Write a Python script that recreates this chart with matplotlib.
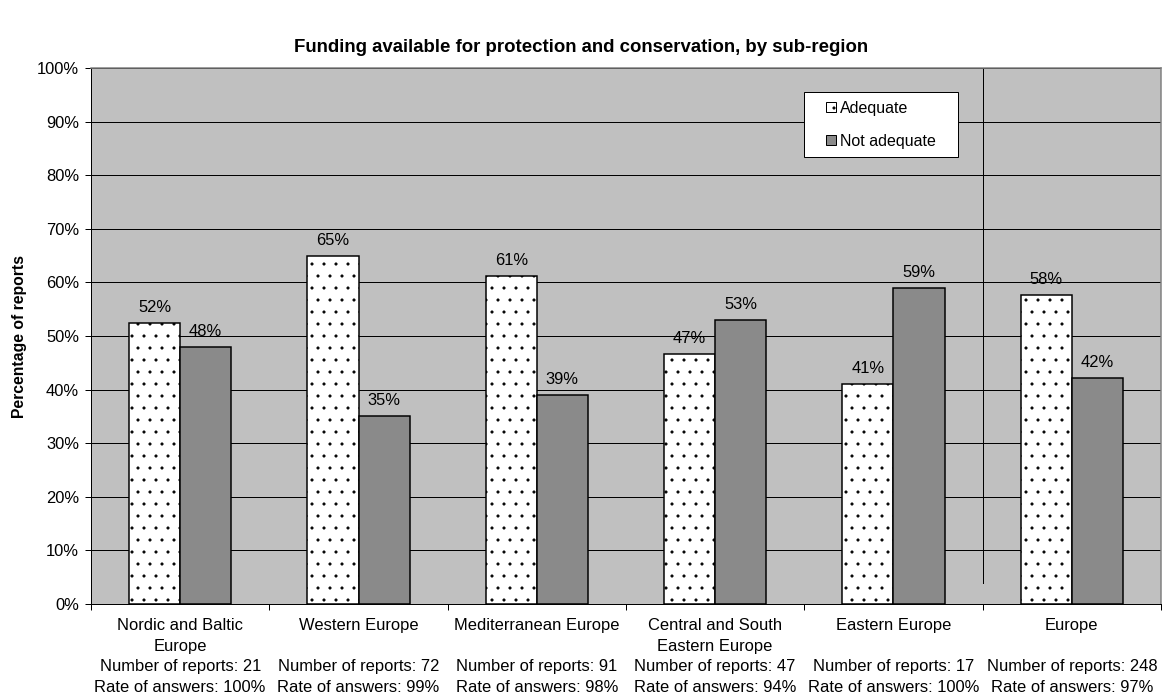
import numpy as np
import matplotlib
matplotlib.use("Agg")
import matplotlib.pyplot as plt
from matplotlib.ticker import PercentFormatter
from matplotlib.patches import Rectangle
from matplotlib.legend_handler import HandlerPatch

# figure at 72 dpi so that 1 pt == 1 px (also gives a sparser dot hatch)
plt.rcParams['font.family'] = ['Liberation Sans', 'DejaVu Sans']
plt.rcParams['hatch.linewidth'] = 0.6

regions = ["Nordic and Baltic\nEurope", "Western Europe", "Mediterranean Europe",
           "Central and South\nEastern Europe", "Eastern Europe", "Europe"]
n_reports = [21, 72, 91, 47, 17, 248]
rate_answers = [100, 99, 98, 94, 100, 97]
adequate = [52.4, 64.9, 61.2, 46.6, 41.0, 57.6]
not_adequate = [48.0, 35.0, 39.0, 53.0, 59.0, 42.1]

labels = []
for r, n, a in zip(regions, n_reports, rate_answers):
    if "\n" not in r:
        r = r + "\n"
    labels.append(r + "\nNumber of reports: %d\nRate of answers: %d%%" % (n, a))

W, H = 1162, 697
fig = plt.figure(figsize=(W/72, H/72), dpi=72)
ax = fig.add_axes([91/W, 93/H, 1070/W, 536/H])
ax.set_facecolor("#c0c0c0")

x = np.arange(len(regions))
w = 0.286

b1 = ax.bar(x - w/2, adequate, w, color="white", edgecolor="black", hatch=".",
            linewidth=1.5, label="Adequate", zorder=3)
b2 = ax.bar(x + w/2, not_adequate, w, color="#8a8a8a", edgecolor="black",
            linewidth=1.5, label="Not adequate", zorder=3)

for bars, vals in ((b1, adequate), (b2, not_adequate)):
    for b, v in zip(bars, vals):
        ax.annotate("%d%%" % round(v), (b.get_x() + b.get_width()/2, v),
                    xytext=(0, 8), textcoords="offset points",
                    ha="center", va="bottom", fontsize=16.5, zorder=4)

ax.set_xlim(-0.5, len(regions) - 0.5)
ax.set_ylim(0, 100)
ax.yaxis.set_major_formatter(PercentFormatter(decimals=0))
ax.set_yticks(np.arange(0, 101, 10))
ax.yaxis.grid(True, color="black", linewidth=1.0, zorder=1)
ax.set_axisbelow(True)

ax.set_xticks(x)
ax.set_xticklabels(labels, fontsize=16.5, linespacing=1.47, va="top")
ax.set_xticks(np.arange(-0.5, len(regions)), minor=True)
ax.tick_params(axis="x", which="major", length=0, pad=14)
ax.tick_params(axis="x", which="minor", length=6, direction="out", width=1)
ax.tick_params(axis="y", labelsize=16.5, length=6, width=1, pad=6)

ax.axvline(len(regions) - 1.5, ymin=0.04, ymax=1, color="black", linewidth=1.0, zorder=2)

for s in ("left", "bottom"):
    ax.spines[s].set_linewidth(1.0)
for s in ("top", "right"):
    ax.spines[s].set_color("#808080")
    ax.spines[s].set_linewidth(1.5)

ax.set_ylabel("Percentage of reports", fontsize=15.8, fontweight="bold", labelpad=10)
fig.text(0.5, 1 - 47/H, "Funding available for protection and conservation, by sub-region",
         ha="center", va="center", fontsize=18.6, fontweight="bold")


def small_square(legend, orig_handle, xdescent, ydescent, width, height, fontsize):
    s = 10
    return Rectangle((-xdescent + width - s, -ydescent + (height - s)/2), s, s)


leg = ax.legend(handles=[b1.patches[0], b2.patches[0]], labels=["Adequate", "Not adequate"],
                loc="upper left", bbox_to_anchor=(0.666, 0.838, 0.144, 0.117),
                mode="expand", fontsize=16, frameon=True, fancybox=False,
                edgecolor="black", framealpha=1, handlelength=1.5, handleheight=0.7,
                handletextpad=0.25, borderpad=0.55, labelspacing=1.1, borderaxespad=0,
                handler_map={Rectangle: HandlerPatch(patch_func=small_square)})
leg.get_frame().set_linewidth(1.0)
for p in leg.get_patches():
    p.set_linewidth(1.0)

fig.savefig("out.png", dpi=72)
